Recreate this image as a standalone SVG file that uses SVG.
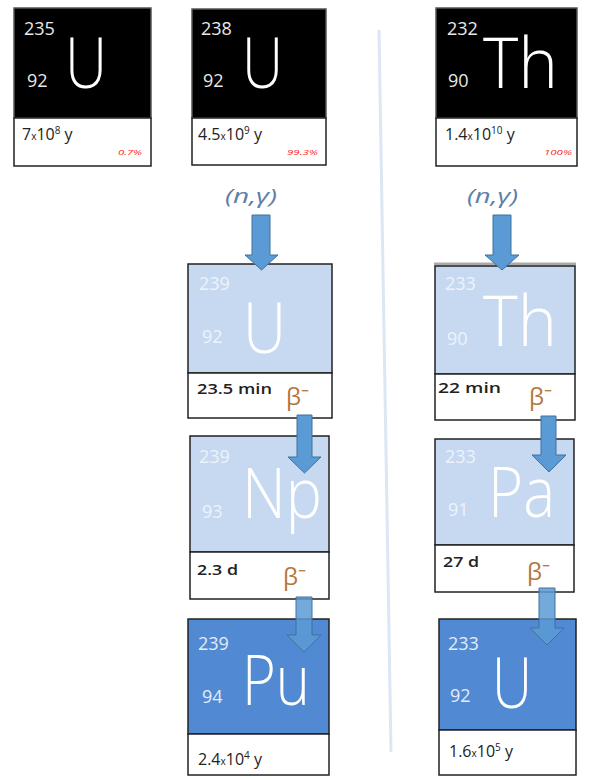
<svg xmlns="http://www.w3.org/2000/svg" width="592" height="780" viewBox="0 0 592 780">
<style>
.bk{fill:#000;stroke:#555;stroke-width:1.5}
.lb{fill:#c6d9f1;stroke:#222;stroke-width:1.5}
.db{fill:#5289d3;stroke:#222;stroke-width:1.5}
.wh{fill:#fff;stroke:#222;stroke-width:1.5}
.num{font-family:"Open Sans","Liberation Sans",sans-serif;font-size:18px;fill:#e8e8e8}
.lnum{font-family:"Open Sans","Liberation Sans",sans-serif;font-size:18px;fill:#eef3fa}
.dnum{font-family:"Open Sans","Liberation Sans",sans-serif;font-size:18px;fill:#e3ecf8}
.sym{font-family:"Open Sans","Liberation Sans",sans-serif;font-weight:300;font-size:70px;fill:#fff}
.hl{font-family:"Open Sans","Liberation Sans",sans-serif;font-size:16px;fill:#222}
.hb{font-family:"Open Sans","Liberation Sans",sans-serif;font-size:15px;font-weight:600;fill:#222}
.pct{font-family:"Open Sans","Liberation Sans",sans-serif;font-size:8px;font-style:italic;fill:#ff2020}
.beta{font-family:"Open Sans","Liberation Sans",sans-serif;font-size:24px;fill:#b5763c}
.ng{font-family:"Open Sans","Liberation Sans",sans-serif;font-size:20px;font-style:italic;fill:#5d7fa8}
.arr{fill:#5b9bd5;stroke:#41719c;stroke-width:1}
</style>
<line x1="379" y1="30" x2="391" y2="752" stroke="#dce7f5" stroke-width="3"/>

<g id="U235">
<rect class="bk" x="14" y="8" width="137" height="110"/>
<rect class="wh" x="14" y="118" width="137" height="48"/>
<text class="num" x="24" y="35">235</text>
<text class="num" x="27" y="87">92</text>
<text class="sym" x="65" y="88" textLength="42" lengthAdjust="spacingAndGlyphs">U</text>
<text class="hl" x="22" y="140">7<tspan font-size="10">x</tspan>10<tspan font-size="10" dy="-6">8</tspan><tspan dy="6"> y</tspan></text>
<text class="pct" x="118" y="155" textLength="24" lengthAdjust="spacingAndGlyphs">0.7%</text>
</g>

<g id="U238">
<rect class="bk" x="192" y="9" width="134" height="109"/>
<rect class="wh" x="192" y="118" width="134" height="47"/>
<text class="num" x="201" y="35">238</text>
<text class="num" x="203" y="87">92</text>
<text class="sym" x="242" y="88" textLength="41" lengthAdjust="spacingAndGlyphs">U</text>
<text class="hl" x="198" y="140">4.5<tspan font-size="10">x</tspan>10<tspan font-size="10" dy="-6">9</tspan><tspan dy="6"> y</tspan></text>
<text class="pct" x="287" y="155" textLength="31" lengthAdjust="spacingAndGlyphs">99.3%</text>
</g>

<g id="Th232">
<rect class="bk" x="436" y="8" width="141" height="110"/>
<rect class="wh" x="436" y="118" width="141" height="48"/>
<text class="num" x="447" y="35">232</text>
<text class="num" x="448" y="87">90</text>
<text class="sym" x="483" y="88" textLength="75" lengthAdjust="spacingAndGlyphs">Th</text>
<text class="hl" x="445" y="140">1.4<tspan font-size="10">x</tspan>10<tspan font-size="10" dy="-6">10</tspan><tspan dy="6"> y</tspan></text>
<text class="pct" x="544" y="155" textLength="28" lengthAdjust="spacingAndGlyphs">100%</text>
</g>

<g id="ng1"><text class="ng" x="225" y="203" textLength="52" lengthAdjust="spacingAndGlyphs">(n,γ)</text></g>
<g id="ng2"><text class="ng" x="467" y="203" textLength="51" lengthAdjust="spacingAndGlyphs">(n,γ)</text></g>

<g id="U239">
<rect class="lb" x="188" y="264" width="144" height="109"/>
<rect class="wh" x="188" y="373" width="144" height="45"/>
<text class="lnum" x="199" y="290">239</text>
<text class="lnum" x="202" y="343">92</text>
<text class="sym" x="243" y="353" font-size="83" textLength="43" lengthAdjust="spacingAndGlyphs">U</text>
<text class="hb" x="197" y="394" textLength="75" lengthAdjust="spacingAndGlyphs">23.5 min</text>
<text class="beta" x="286" y="405">β⁻</text>
</g>

<g id="Th233">
<line x1="434" y1="264" x2="576" y2="264" stroke="#aaa" stroke-width="3"/>
<rect class="lb" x="435" y="266" width="140" height="108"/>
<rect class="wh" x="435" y="374" width="140" height="46"/>
<text class="lnum" x="445" y="290">233</text>
<text class="lnum" x="447" y="345">90</text>
<text class="sym" x="483" y="346" textLength="74" lengthAdjust="spacingAndGlyphs">Th</text>
<text class="hb" x="438" y="393" textLength="63" lengthAdjust="spacingAndGlyphs">22 min</text>
<text class="beta" x="529" y="405">β⁻</text>
</g>

<g id="Np239">
<rect class="lb" x="190" y="436" width="139" height="116"/>
<rect class="wh" x="190" y="552" width="139" height="47"/>
<text class="lnum" x="199" y="463">239</text>
<text class="lnum" x="202" y="518">93</text>
<text class="sym" x="242" y="518" textLength="80" lengthAdjust="spacingAndGlyphs">Np</text>
<text class="hb" x="197" y="575" textLength="41" lengthAdjust="spacingAndGlyphs">2.3 d</text>
<text class="beta" x="283" y="585">β⁻</text>
</g>

<g id="Pa233">
<rect class="lb" x="435" y="439" width="139" height="106"/>
<rect class="wh" x="435" y="545" width="139" height="47"/>
<text class="lnum" x="445" y="463">233</text>
<text class="lnum" x="448" y="516">91</text>
<text class="sym" x="488" y="517" textLength="67" lengthAdjust="spacingAndGlyphs">Pa</text>
<text class="hb" x="443" y="567" textLength="36" lengthAdjust="spacingAndGlyphs">27 d</text>
<text class="beta" x="527" y="580">β⁻</text>
</g>

<g id="Pu239">
<rect class="db" x="188" y="619" width="141" height="115"/>
<rect class="wh" x="188" y="734" width="141" height="41"/>
<text class="dnum" x="198" y="650">239</text>
<text class="dnum" x="202" y="703">94</text>
<text class="sym" x="242" y="705" textLength="68" lengthAdjust="spacingAndGlyphs">Pu</text>
<text class="hl" x="198" y="765">2.4<tspan font-size="10">x</tspan>10<tspan font-size="10" dy="-6">4</tspan><tspan dy="6"> y</tspan></text>
</g>

<g id="U233">
<rect class="db" x="439" y="619" width="137" height="111"/>
<rect class="wh" x="439" y="730" width="137" height="45"/>
<text class="dnum" x="448" y="650">233</text>
<text class="dnum" x="450" y="702">92</text>
<text class="sym" x="492" y="708" textLength="40" lengthAdjust="spacingAndGlyphs">U</text>
<text class="hl" x="449" y="757">1.6<tspan font-size="10">x</tspan>10<tspan font-size="10" dy="-6">5</tspan><tspan dy="6"> y</tspan></text>
</g>

<g id="connectors">
<path class="arr" d="M252,215 H270 V255 H278 L261.5,270 L245,255 H252 Z"/>
<path class="arr" d="M493,215 H511 V255 H519 L502,270 L485,255 H493 Z"/>
<path class="arr" d="M297,415 H312 V457 H321 L304.5,473 L288,457 H297 Z"/>
<path class="arr" d="M296,597 H312 V635 H321 L304,652 L287,635 H296 Z" fill-opacity="0.85"/>
<path class="arr" d="M541,416 H556 V455 H566 L549,472 L532,455 H541 Z"/>
<path class="arr" d="M539,588 H555 V628 H564 L547,645 L530,628 H539 Z" fill-opacity="0.85"/>
</g>
</svg>
